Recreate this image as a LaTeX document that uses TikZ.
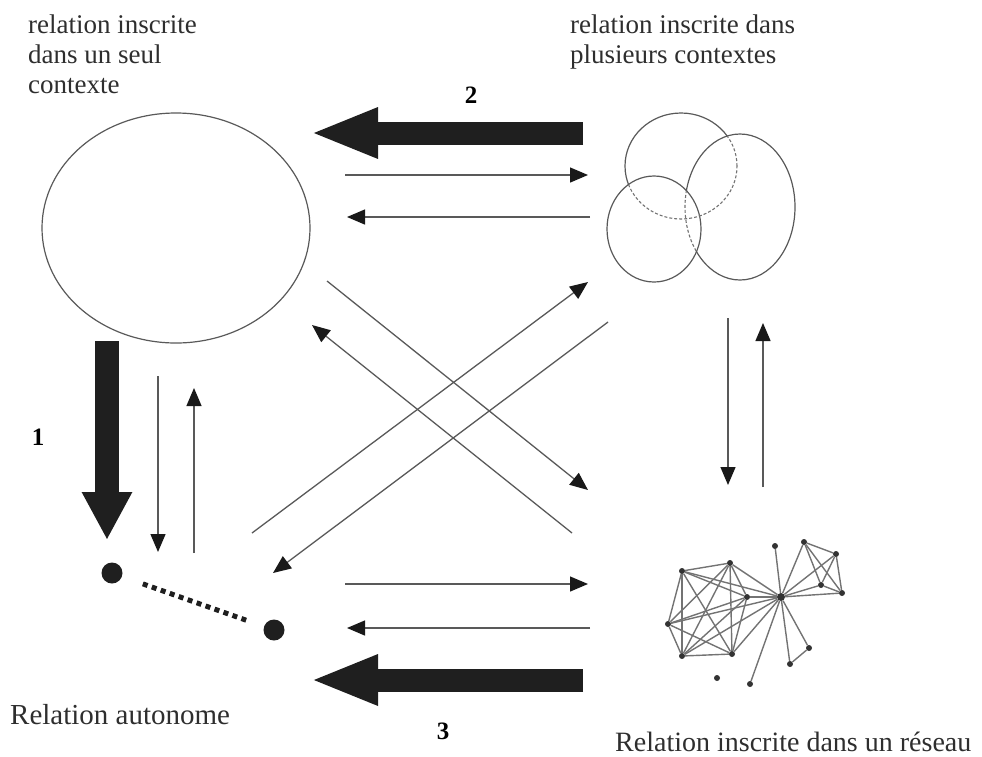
\documentclass[tikz,border=0pt]{standalone}
\usepackage{fontspec}
\setmainfont{Liberation Serif}
\usetikzlibrary{arrows.meta}
\begin{document}
\begin{tikzpicture}[x=1pt,y=-1pt,
  lbltop/.style={anchor=base west,inner sep=0pt,font=\fontsize{27}{30}\selectfont,text=black!82},
  lblbot/.style={anchor=base west,inner sep=0pt,font=\fontsize{29}{32}\selectfont,text=black!82},
  numlbl/.style={anchor=base,inner sep=0pt,font=\fontsize{25}{28}\selectfont\bfseries},
  thinarrow/.style={draw=black!65,line width=1.3pt,-{Triangle[length=18pt,width=15pt,color=black!90]}},
  bigarrow/.style={draw=black!88,line width=23pt,-{Triangle[length=68pt,width=46pt,color=black!88]}},
  contour/.style={draw=black!65,line width=1.2pt},
  hidden/.style={draw=black!55,line width=1.1pt,dash pattern=on 3pt off 2pt},
  blob/.style={circle,fill=black!88,inner sep=0pt,minimum size=21pt},
  nd/.style={circle,fill=black!80,inner sep=0pt,minimum size=6pt},
  edge/.style={draw=black!55,line width=1.4pt}
]
\useasboundingbox (0,0) rectangle (982,756);

% ---- labels
\node[lbltop] (t1a) at (28,33) {relation inscrite};
\node[lbltop] (t1b) at (28,63) {dans un seul};
\node[lbltop] (t1c) at (28,93) {contexte};
\node[lbltop] (t2a) at (570,33) {relation inscrite dans};
\node[lbltop] (t2b) at (570,63) {plusieurs contextes};
\node[lblbot] (t3) at (10,724) {Relation autonome};
\node[lblbot,font=\fontsize{28}{32}\selectfont] (t4) at (615,751) {Relation inscrite dans un réseau};
\node[numlbl] (n1) at (38,445) {1};
\node[numlbl] (n2) at (471,103) {2};
\node[numlbl] (n3) at (443,739) {3};

% ---- single context
\coordinate (ctx) at (176,228);
\draw[contour] (ctx) ellipse [x radius=134pt,y radius=115pt];

% ---- several contexts
\coordinate (cP) at (681,166);
\coordinate (cQ) at (740,207);
\coordinate (cS) at (654,229);
\draw[contour] (cS) ellipse [x radius=47pt,y radius=53pt];
\begin{scope}
  \clip (cS) ellipse [x radius=47pt,y radius=53pt];
  \draw[hidden] (cQ) ellipse [x radius=55pt,y radius=73pt];
\end{scope}
\begin{scope}[even odd rule]
  \clip (550,80) rectangle (850,320) (cS) ellipse [x radius=47pt,y radius=53pt];
  \draw[contour] (cQ) ellipse [x radius=55pt,y radius=73pt];
\end{scope}
\begin{scope}
  \clip (cS) ellipse [x radius=47pt,y radius=53pt] (cQ) ellipse [x radius=55pt,y radius=73pt];
  \draw[hidden] (cP) ellipse [x radius=56pt,y radius=53pt];
\end{scope}
\begin{scope}[even odd rule]
  \clip (550,80) rectangle (850,320) (cS) ellipse [x radius=47pt,y radius=53pt];
  \clip (550,80) rectangle (850,320) (cQ) ellipse [x radius=55pt,y radius=73pt];
  \draw[contour] (cP) ellipse [x radius=56pt,y radius=53pt];
\end{scope}

% ---- autonomous relation
\node[blob] (d1) at (112,573) {};
\node[blob] (d2) at (274,630) {};
\draw[line width=5pt,black!88,dash pattern=on 5pt off 4.5pt,shorten <=22pt,shorten >=17pt] (d1) -- (d2);

% ---- network
\node[nd] (A) at (682,571) {};
\node[nd] (B) at (730,563) {};
\node[nd] (C) at (747,597) {};
\node[nd] (D) at (668,624) {};
\node[nd] (E) at (682,656) {};
\node[nd] (F) at (732,654) {};
\node[nd,minimum size=8pt] (H) at (781,597) {};
\node[nd] (T) at (775,546) {};
\node[nd] (R1) at (804,542) {};
\node[nd] (R2) at (836,554) {};
\node[nd] (R3) at (821,585) {};
\node[nd] (R4) at (842,593) {};
\node[nd] (L1) at (809,648) {};
\node[nd] (L2) at (790,664) {};
\node[nd] (L3) at (750,684) {};
\node[nd] (I) at (717,678) {};
\foreach \u/\v in {A/B,A/C,A/D,A/E,A/F,B/C,B/D,B/E,B/F,C/D,C/E,C/F,D/E,D/F,E/F,
  H/A,H/B,H/C,H/D,H/E,H/F,H/T,H/R1,H/R2,H/R3,H/R4,
  R1/R2,R1/R3,R1/R4,R2/R3,R2/R4,R3/R4,H/L1,H/L2,L1/L2,H/L3}
  \draw[edge] (\u) -- (\v);

% ---- arrow end points
\coordinate (a1s) at (583,133); \coordinate (a1e) at (310,133);
\coordinate (a3s) at (583,680); \coordinate (a3e) at (310,680);
\coordinate (a2s) at (107,341); \coordinate (a2e) at (107,540);
\draw[bigarrow] (a1s) -- (a1e);
\draw[bigarrow] (a3s) -- (a3e);
\draw[bigarrow,line width=24pt,-{Triangle[length=48pt,width=47pt,color=black!88]}] (a2s) -- (a2e);

\coordinate (h1s) at (345,175); \coordinate (h1e) at (588,175);
\coordinate (h2s) at (590,217); \coordinate (h2e) at (347,217);
\coordinate (h3s) at (345,584); \coordinate (h3e) at (588,584);
\coordinate (h4s) at (590,628); \coordinate (h4e) at (347,628);
\coordinate (v1s) at (158,376); \coordinate (v1e) at (158,552);
\coordinate (v2s) at (194,553); \coordinate (v2e) at (194,388);
\coordinate (v3s) at (728,318); \coordinate (v3e) at (728,485);
\coordinate (v4s) at (763,487); \coordinate (v4e) at (763,323);
\coordinate (x1s) at (327,281); \coordinate (x1e) at (588,490);
\coordinate (x2s) at (572,533); \coordinate (x2e) at (312,325);
\coordinate (x3s) at (252,533); \coordinate (x3e) at (588,282);
\coordinate (x4s) at (608,322); \coordinate (x4e) at (273,573);
\foreach \p in {h1,h2,h3,h4,v1,v2,v3,v4,x1,x2,x3,x4}
  \draw[thinarrow] (\p s) -- (\p e);
\end{tikzpicture}
\end{document}
